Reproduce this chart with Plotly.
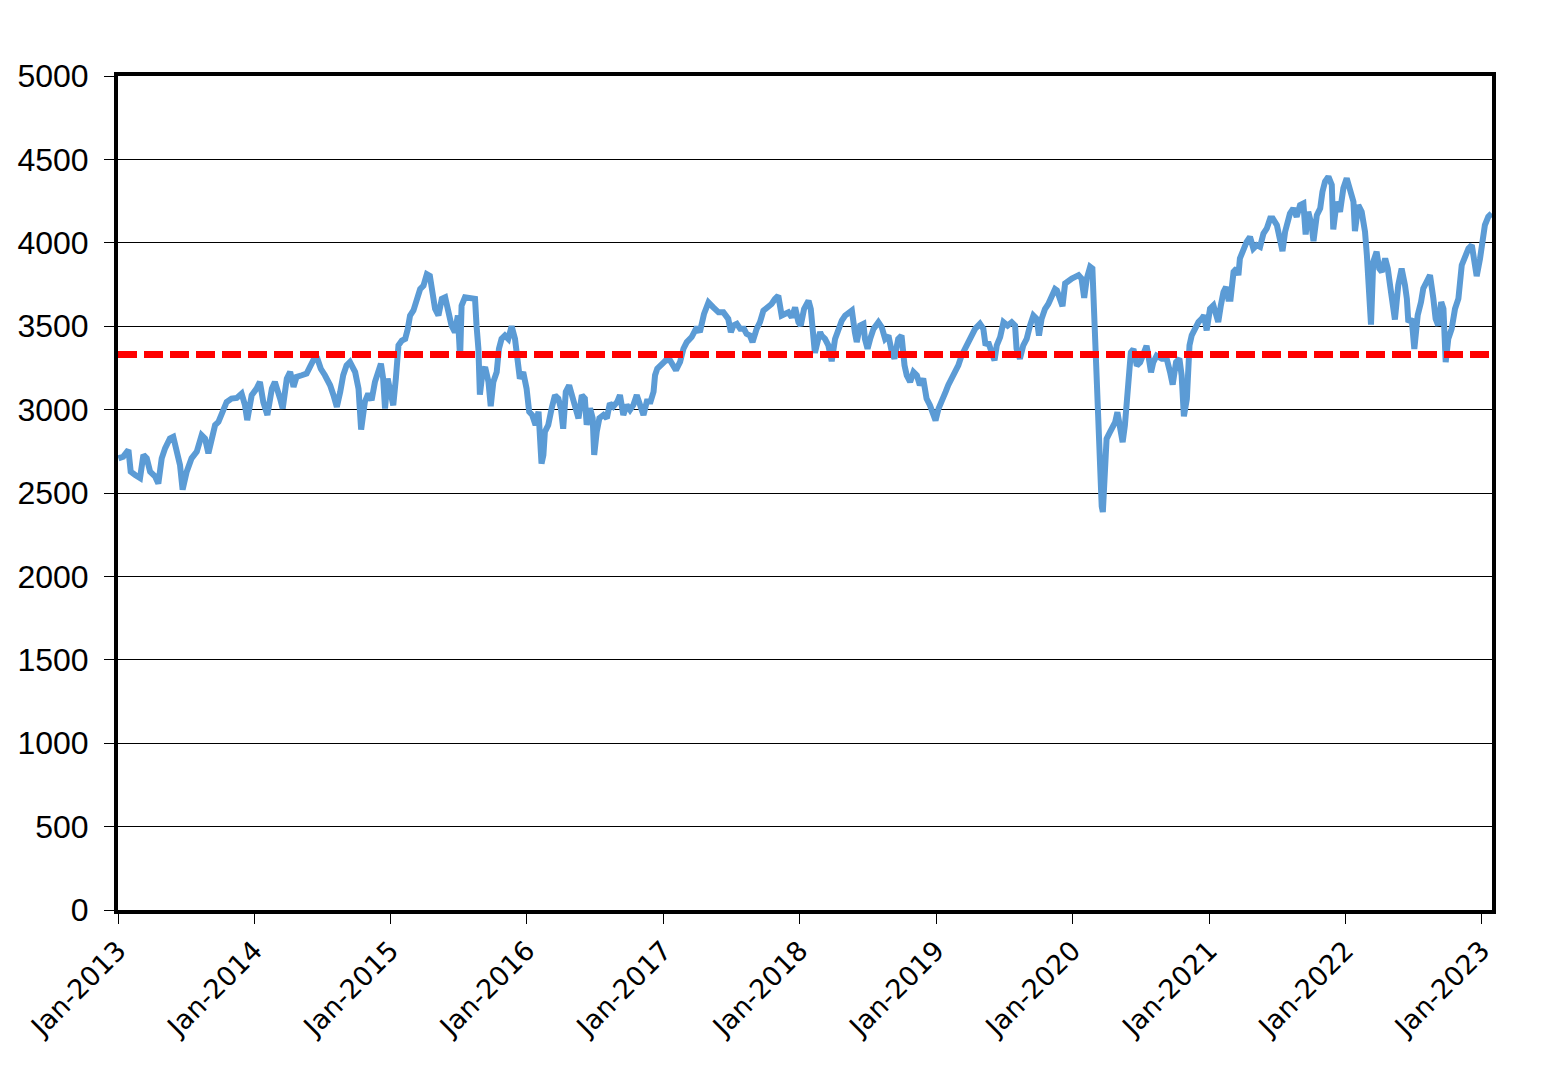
import pandas as pd
import plotly.graph_objects as go

# ---- data ----
# x positions are day offsets from 2013-01-01, y is the index level
start_date = pd.Timestamp("2013-01-01")

days_2013 = [1, 14, 28, 34, 46, 59, 68, 77, 86, 99,
             108, 117, 126, 139, 148, 157, 166, 173, 184, 197,
             211, 224, 233, 242, 251, 260, 269, 282, 291, 304,
             318, 331, 340, 346, 358, 371, 380, 389, 400, 412,
             420, 434, 441, 452, 461, 470, 478, 492, 505, 514,
             525, 534, 543, 554, 568, 577, 586, 595, 603, 612,
             621]
vals_2013 = [2708, 2718, 2758, 2628, 2608, 2590, 2728, 2708, 2628, 2600,
             2557, 2708, 2768, 2827, 2837, 2728, 2668, 2520, 2628, 2708,
             2748, 2847, 2827, 2738, 2808, 2907, 2927, 2987, 3046, 3066,
             3070, 3096, 3026, 2937, 3086, 3126, 3166, 3046, 2967, 3126,
             3166, 3066, 3006, 3186, 3226, 3136, 3196, 3206, 3216, 3256,
             3305, 3305, 3245, 3206, 3146, 3086, 3016, 3106, 3206, 3265,
             3285]

days_2015 = [635, 644, 651, 661, 670, 679, 688, 697, 704, 710,
             715, 722, 728, 737, 744, 751, 760, 769, 776, 782,
             791, 800, 809, 818, 827, 835, 843, 849, 858, 867,
             876, 885, 893, 902, 910, 916, 920, 929, 943, 956,
             960, 965, 969, 976, 983, 992, 998, 1005, 1014, 1020,
             1027, 1036, 1045, 1054, 1063, 1070, 1076, 1085, 1094, 1101,
             1109, 1118, 1126, 1134, 1139, 1143, 1152, 1161, 1170, 1179,
             1186, 1192, 1199, 1208, 1217, 1224, 1233, 1242, 1250]
vals_2015 = [3225, 3126, 2880, 3046, 3096, 3056, 3166, 3245, 3275, 3186,
             3006, 3186, 3126, 3026, 3186, 3385, 3414, 3424, 3484, 3564,
             3594, 3673, 3723, 3743, 3812, 3802, 3703, 3604, 3564, 3664,
             3673, 3584, 3504, 3464, 3564, 3310, 3624, 3673, 3673, 3664,
             3504, 3365, 3090, 3225, 3255, 3166, 3020, 3166, 3225, 3365,
             3424, 3444, 3424, 3500, 3424, 3285, 3186, 3225, 3126, 2987,
             2967, 2907, 2987, 2676, 2728, 2867, 2907, 3006, 3086, 3066,
             3006, 2885, 3106, 3146, 3066, 3006, 2947, 3086, 3066]

days_2016 = [1255, 1264, 1271, 1275, 1282, 1289, 1300, 1309, 1317, 1326,
             1337, 1344, 1353, 1362, 1371, 1380, 1389, 1400, 1407, 1416,
             1426, 1434, 1438, 1444, 1456, 1467, 1478, 1487, 1494, 1505,
             1514, 1523, 1536, 1550, 1558, 1569, 1581, 1594, 1608, 1621,
             1634, 1641, 1648, 1657, 1666, 1676, 1683, 1692, 1699, 1710,
             1719, 1728, 1739, 1750, 1759, 1768, 1777, 1786, 1795, 1804,
             1813, 1822, 1828, 1837, 1849, 1855, 1860, 1866, 1875, 1880]
vals_2016 = [2909, 3008, 2948, 2728, 2869, 2948, 2968, 2948, 3038, 3018,
             3048, 3087, 2968, 3028, 2998, 3028, 3087, 3028, 2968, 3048,
             3048, 3107, 3206, 3246, 3276, 3296, 3296, 3266, 3236, 3286,
             3365, 3405, 3435, 3494, 3464, 3573, 3643, 3613, 3583, 3583,
             3544, 3464, 3504, 3514, 3484, 3484, 3454, 3444, 3405, 3484,
             3524, 3593, 3613, 3633, 3663, 3683, 3564, 3573, 3583, 3554,
             3613, 3524, 3504, 3603, 3653, 3603, 3425, 3340, 3425, 3464]

days_2018 = [1884, 1893, 1902, 1911, 1920, 1929, 1938, 1947, 1956, 1965,
             1973, 1978, 1987, 1996, 2000, 2007, 2014, 2023, 2036, 2045,
             2054, 2063, 2072, 2079, 2089, 2098, 2106, 2112, 2121, 2130,
             2139, 2147, 2156, 2165, 2174, 2183, 2189, 2197, 2206, 2216,
             2223, 2232, 2241, 2250, 2259, 2268, 2277, 2286, 2295, 2308,
             2317, 2323, 2330, 2339, 2347, 2353, 2362, 2371, 2382, 2393,
             2402, 2406, 2415, 2424, 2433, 2442, 2451, 2460, 2466, 2473,
             2482, 2491, 2500, 2509]
vals_2018 = [3444, 3424, 3385, 3290, 3424, 3484, 3534, 3564, 3584, 3594,
             3464, 3405, 3504, 3514, 3424, 3365, 3424, 3484, 3524, 3494,
             3424, 3444, 3345, 3305, 3424, 3444, 3265, 3205, 3166, 3225,
             3205, 3146, 3186, 3066, 3026, 2967, 2935, 3006, 3066, 3106,
             3146, 3186, 3225, 3265, 3325, 3365, 3385, 3434, 3484, 3514,
             3484, 3385, 3405, 3345, 3295, 3385, 3434, 3524, 3504, 3524,
             3504, 3365, 3305, 3385, 3424, 3504, 3564, 3544, 3444, 3544,
             3603, 3633, 3683, 3723]

days_2020 = [2514, 2522, 2529, 2536, 2545, 2554, 2563, 2572, 2580, 2587,
             2594, 2603, 2609, 2613, 2616, 2621, 2625, 2630, 2634, 2637,
             2640, 2643, 2647, 2656, 2665, 2670, 2676, 2683, 2690, 2696,
             2701, 2708, 2712, 2719, 2728, 2737, 2746, 2754, 2759, 2766,
             2772, 2781, 2795, 2808, 2817, 2824, 2833, 2842, 2848, 2854,
             2862, 2869, 2875, 2884, 2893, 2902, 2908, 2915, 2924, 2933,
             2939, 2946, 2953, 2960, 2967, 2973, 2979, 2987, 2995, 3000,
             3004, 3012, 3022, 3031, 3040, 3049, 3058, 3067, 3076, 3085,
             3092, 3103, 3111, 3118, 3125, 3134]
vals_2020 = [3715, 3665, 3620, 3756, 3776, 3786, 3796, 3806, 3786, 3670,
             3786, 3856, 3846, 3600, 3400, 3100, 2800, 2600, 2420, 2386,
             2500, 2705, 2825, 2865, 2905, 2924, 2984, 2884, 2805, 2905,
             3024, 3163, 3343, 3363, 3263, 3283, 3343, 3382, 3323, 3223,
             3283, 3323, 3305, 3305, 3224, 3150, 3285, 3305, 3204, 2960,
             3064, 3385, 3445, 3495, 3525, 3545, 3565, 3475, 3605, 3625,
             3585, 3525, 3625, 3705, 3735, 3665, 3665, 3826, 3846, 3806,
             3906, 3956, 4006, 4036, 3966, 3986, 3976, 4056, 4086, 4146,
             4146, 4106, 4036, 3950, 4066, 4146]

days_2021 = [3138, 3147, 3156, 3165, 3174, 3180, 3187, 3196, 3201, 3210,
             3219, 3225, 3232, 3241, 3250, 3254, 3263, 3272, 3281, 3290,
             3299, 3308, 3312, 3321, 3330, 3339, 3344, 3348, 3355, 3361,
             3370, 3377, 3384, 3393, 3400, 3406, 3412, 3419, 3428, 3437,
             3446, 3451, 3455, 3464, 3471, 3480, 3489, 3495, 3504, 3513,
             3522, 3528, 3535, 3543, 3549, 3555, 3562, 3571, 3580, 3589,
             3598, 3607, 3616, 3625, 3632, 3638, 3647, 3653, 3660, 3669,
             3678]
vals_2021 = [4176, 4206, 4156, 4226, 4236, 4050, 4186, 4106, 4010, 4166,
             4206, 4306, 4367, 4397, 4347, 4080, 4246, 4186, 4327, 4387,
             4307, 4246, 4070, 4226, 4186, 4066, 3926, 3786, 3510, 3886,
             3946, 3846, 3826, 3906, 3846, 3746, 3665, 3540, 3746, 3846,
             3746, 3665, 3525, 3545, 3363, 3565, 3645, 3726, 3766, 3806,
             3665, 3545, 3505, 3645, 3605, 3284, 3425, 3485, 3605, 3665,
             3866, 3926, 3966, 3986, 3906, 3800, 3906, 3986, 4106, 4156,
             4176]

reference_level = 3330          # red dashed line
x_range = ["2013-01-01", "2023-01-28"]
tick_years = list(range(2013, 2024))
y_range = [0, 5000]

# ---- assemble ----
all_days = days_2013 + days_2015 + days_2016 + days_2018 + days_2020 + days_2021
all_vals = vals_2013 + vals_2015 + vals_2016 + vals_2018 + vals_2020 + vals_2021
assert len(all_days) == len(all_vals), (len(all_days), len(all_vals))
dates = start_date + pd.to_timedelta(all_days, unit="D")

fig = go.Figure()
fig.add_trace(go.Scatter(
    x=dates, y=all_vals, mode="lines",
    line=dict(color="#5B9BD5", width=6),
    name="Index",
))
fig.add_trace(go.Scatter(
    x=x_range, y=[reference_level, reference_level], mode="lines",
    line=dict(color="#FF0000", width=7, dash="19px,7px"),
    name="Level",
))

fig.update_layout(
    width=1543, height=1091,
    margin=dict(l=118, r=51, t=76, b=181),
    paper_bgcolor="white", plot_bgcolor="white",
    showlegend=False,
)
fig.update_xaxes(
    type="date", range=x_range,
    tickvals=[f"{y}-01-01" for y in tick_years],
    tickformat="%b-%Y", tickangle=-45,
    ticks="outside", ticklen=10, tickwidth=1, tickcolor="black",
    showline=True, linecolor="black", linewidth=4, mirror=True,
    showgrid=False, zeroline=False,
    tickfont=dict(family="DejaVu Sans", size=27, color="black"),
)
fig.update_yaxes(
    range=y_range, dtick=500,
    ticks="outside", ticklen=10, tickwidth=1, tickcolor="black",
    showline=True, linecolor="black", linewidth=4, mirror=True,
    showgrid=True, gridcolor="black", gridwidth=1, zeroline=False,
    tickfont=dict(family="Liberation Sans", size=32, color="black"),
    ticklabelstandoff=9,
)

fig.write_html(
    "out.html",
    config={"displayModeBar": False},
    post_script="document.body.style.margin='0';",
)
